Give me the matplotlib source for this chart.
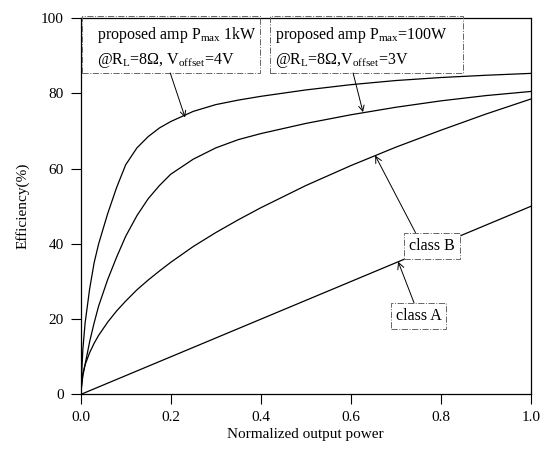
import matplotlib
matplotlib.use("Agg")
import matplotlib.pyplot as plt
from matplotlib.patches import Rectangle

plt.rcParams['font.family'] = ['Liberation Serif', 'DejaVu Serif']
plt.rcParams['mathtext.fontset'] = 'custom'
plt.rcParams['mathtext.rm'] = 'Liberation Serif'
plt.rcParams['mathtext.it'] = 'Liberation Serif:italic'

# Data
power = [0, 0.005, 0.01, 0.02, 0.03, 0.04, 0.06, 0.08, 0.1, 0.125, 0.15, 0.175, 0.2,
         0.25, 0.3, 0.35, 0.4, 0.5, 0.6, 0.7, 0.8, 0.9, 1.0]
eff_1kw = [0, 12, 19, 28, 35, 40, 48, 55, 61, 65.5, 68.5, 70.8, 72.5,
           75.2, 77, 78.2, 79.2, 80.9, 82.3, 83.4, 84.2, 84.8, 85.3]
eff_100w = [0, 5, 8, 14, 19, 23.5, 30.5, 36.5, 42, 47.5, 52, 55.5, 58.5,
            62.5, 65.5, 67.7, 69.3, 72, 74.3, 76.3, 78, 79.4, 80.5]
eff_classB = [0, 5.6, 7.9, 11.1, 13.6, 15.7, 19.2, 22.2, 24.8, 27.8, 30.4, 32.8, 35.1,
              39.3, 43, 46.4, 49.6, 55.5, 60.8, 65.7, 70.2, 74.5, 78.5]
eff_classA = [0, 0.25, 0.5, 1, 1.5, 2, 3, 4, 5, 6.25, 7.5, 8.75, 10,
              12.5, 15, 17.5, 20, 25, 30, 35, 40, 45, 50]

xticks = [0.0, 0.2, 0.4, 0.6, 0.8, 1.0]
yticks = [0, 20, 40, 60, 80, 100]

fig = plt.figure(figsize=(5.41, 4.51), dpi=100)
ax = fig.add_axes([0.149, 0.1253, 0.8325, 0.8347])

for y in (eff_1kw, eff_100w, eff_classB, eff_classA):
    ax.plot(power, y, color='black', lw=0.9)

ax.set_xlim(0, 1.0)
ax.set_ylim(0, 100)
ax.set_xticks(xticks)
ax.set_xticklabels([f"{v:.1f}" for v in xticks])
ax.set_yticks(yticks)
ax.tick_params(direction='out', length=7, width=0.8, labelsize=11, pad=5)
for s in ax.spines.values():
    s.set_linewidth(0.9)
ax.set_xlabel('Normalized output power', fontsize=11, labelpad=3)
ax.set_ylabel('Efficiency(%)', fontsize=11, labelpad=8)

# Legend-like boxes at the top
for x0, x1 in ((0.003, 0.398), (0.421, 0.849)):
    ax.add_patch(Rectangle((x0, 85.4), x1 - x0, 15.2, fill=False, ec='#666666',
                           lw=0.7, ls='-.', clip_on=False, zorder=3))
ax.text(0.037, 95.5, 'proposed amp P$_{\\mathrm{max}}$ 1kW', fontsize=11.5, va='center', ha='left')
ax.text(0.037, 88.8, '@R$_{\\mathrm{L}}$=8Ω, V$_{\\mathrm{offset}}$=4V', fontsize=11.5, va='center', ha='left')
ax.text(0.432, 95.5, 'proposed amp P$_{\\mathrm{max}}$=100W', fontsize=11.5, va='center', ha='left')
ax.text(0.432, 88.8, '@R$_{\\mathrm{L}}$=8Ω,V$_{\\mathrm{offset}}$=3V', fontsize=11.5, va='center', ha='left')

arrow = dict(arrowstyle='->', color='black', lw=0.7, shrinkA=0, shrinkB=0)
ax.annotate('', xy=(0.232, 73.6), xytext=(0.199, 85.4), arrowprops=arrow)
ax.annotate('', xy=(0.627, 75.0), xytext=(0.605, 85.4), arrowprops=arrow)

box = dict(boxstyle='square,pad=0.3', fc='white', ec='#666666', lw=0.7, ls='-.')
ax.annotate('class B', xy=(0.654, 63.5), xytext=(0.78, 39.5), ha='center', va='center',
            fontsize=11.5, bbox=box, arrowprops=dict(arrow, relpos=(0.2, 1)))
ax.annotate('class A', xy=(0.705, 35.3), xytext=(0.75, 20.8), ha='center', va='center',
            fontsize=11.5, bbox=box, arrowprops=dict(arrow, relpos=(0.45, 1)))

fig.savefig('out.png', dpi=100)
